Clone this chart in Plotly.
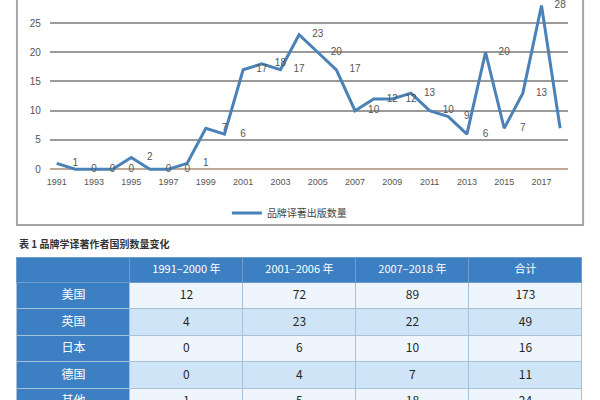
import plotly.graph_objects as go

# ---- line chart data ----
years = list(range(1991, 2019))
counts = [1, 0, 0, 0, 2, 0, 0, 1, 7, 6, 17, 18, 17, 23, 20, 17, 10, 12, 12, 13,
          10, 9, 6, 20, 7, 13, 28, 7]
series_name = "品牌译著出版数量"
x_ticks = list(range(1991, 2018, 2))
y_ticks = [0, 5, 10, 15, 20, 25]

# ---- table data ----
table_title = "表 1 品牌学译著作者国别数量变化"
table_header = ["", "1991–2000 年", "2001–2006 年", "2007–2018 年", "合计"]
countries = ["美国", "英国", "日本", "德国", "其他"]
p1991_2000 = [12, 4, 0, 0, 1]
p2001_2006 = [72, 23, 6, 4, 5]
p2007_2018 = [89, 22, 10, 7, 18]
totals = [173, 49, 16, 11, 24]

W, H = 600, 400
LINE_BLUE = "#4a82b8"
HEAD_BLUE = "#3c7fc2"
ROW_A = "#eef5fc"
ROW_B = "#cfe4f6"

fig = go.Figure()

fig.add_trace(go.Scatter(
    x=years, y=counts, mode="lines", name=series_name,
    line=dict(color=LINE_BLUE, width=3), cliponaxis=False,
    xaxis="x", yaxis="y",
))
# value labels, placed one year to the right of each point (as in the original)
fig.add_trace(go.Scatter(
    x=[y + 1 for y in years], y=counts, mode="text",
    text=[str(c) for c in counts], textposition="middle center",
    textfont=dict(family="Liberation Sans, Arial", size=10, color="#555555"),
    showlegend=False, cliponaxis=False, hoverinfo="skip",
    xaxis="x", yaxis="y",
))

n = len(countries)
fill_first = [HEAD_BLUE] * n
fill_rows = [ROW_A if i % 2 == 0 else ROW_B for i in range(n)]
fig.add_trace(go.Table(
    domain=dict(x=[14 / W, 582 / W], y=[0, 1 - 257 / H]),
    columnwidth=[1, 1, 1, 1, 1],
    header=dict(
        values=table_header,
        fill_color=HEAD_BLUE,
        line=dict(color="#6f9ccb", width=1),
        font=dict(family="Noto Sans CJK SC, Liberation Sans", size=11, color="white"),
        align="center", height=25,
    ),
    cells=dict(
        values=[countries, p1991_2000, p2001_2006, p2007_2018, totals],
        fill_color=[fill_first, fill_rows, fill_rows, fill_rows, fill_rows],
        line=dict(color="#a9c1d8", width=1),
        font=dict(family="Noto Sans CJK SC, Liberation Sans", size=12,
                  color=[["white"] * n] + [["#262626"] * n] * 4),
        align="center", height=26.5,
    ),
))

fig.update_layout(
    width=W, height=H,
    margin=dict(l=0, r=0, t=0, b=0),
    paper_bgcolor="white", plot_bgcolor="white",
    font=dict(family="Liberation Sans, Arial", color="#555555"),
    xaxis=dict(
        domain=[47 / W, 568 / W], range=[1990.63, 2018.43],
        tickvals=x_ticks, showgrid=False, zeroline=False, showline=False,
        ticks="", tickfont=dict(size=9, color="#555555"), anchor="y",
    ),
    yaxis=dict(
        domain=[1 - 175 / H, 1], range=[-1, 28.94],
        tickvals=y_ticks, showgrid=True, gridcolor="#9a9a9a", gridwidth=1.5,
        zeroline=True, zerolinecolor="#bfa898", zerolinewidth=1.5,
        showline=False, ticks="", ticklabelstandoff=8,
        tickfont=dict(size=10, color="#555555"), anchor="x",
    ),
    showlegend=True,
    legend=dict(
        orientation="h", x=225 / W, y=1 - 213 / H, xanchor="left", yanchor="middle",
        font=dict(family="Noto Sans CJK SC", size=10, color="#444444"),
        bgcolor="rgba(0,0,0,0)",
    ),
    shapes=[dict(
        type="rect", xref="paper", yref="paper",
        x0=14 / W, x1=583 / W, y0=1 - 225 / H, y1=1.05,
        line=dict(color="#a5a5a5", width=2), fillcolor="rgba(0,0,0,0)", layer="below",
    )],
    annotations=[dict(
        text="<b>" + table_title + "</b>", xref="paper", yref="paper",
        x=14 / W, y=1 - 243 / H, xanchor="left", yanchor="middle", showarrow=False,
        font=dict(family="Noto Sans CJK SC", size=10, color="#333333"),
    )],
)

fig.write_html("out.html", config={"displayModeBar": False},
               post_script="document.body.style.margin='0';")
